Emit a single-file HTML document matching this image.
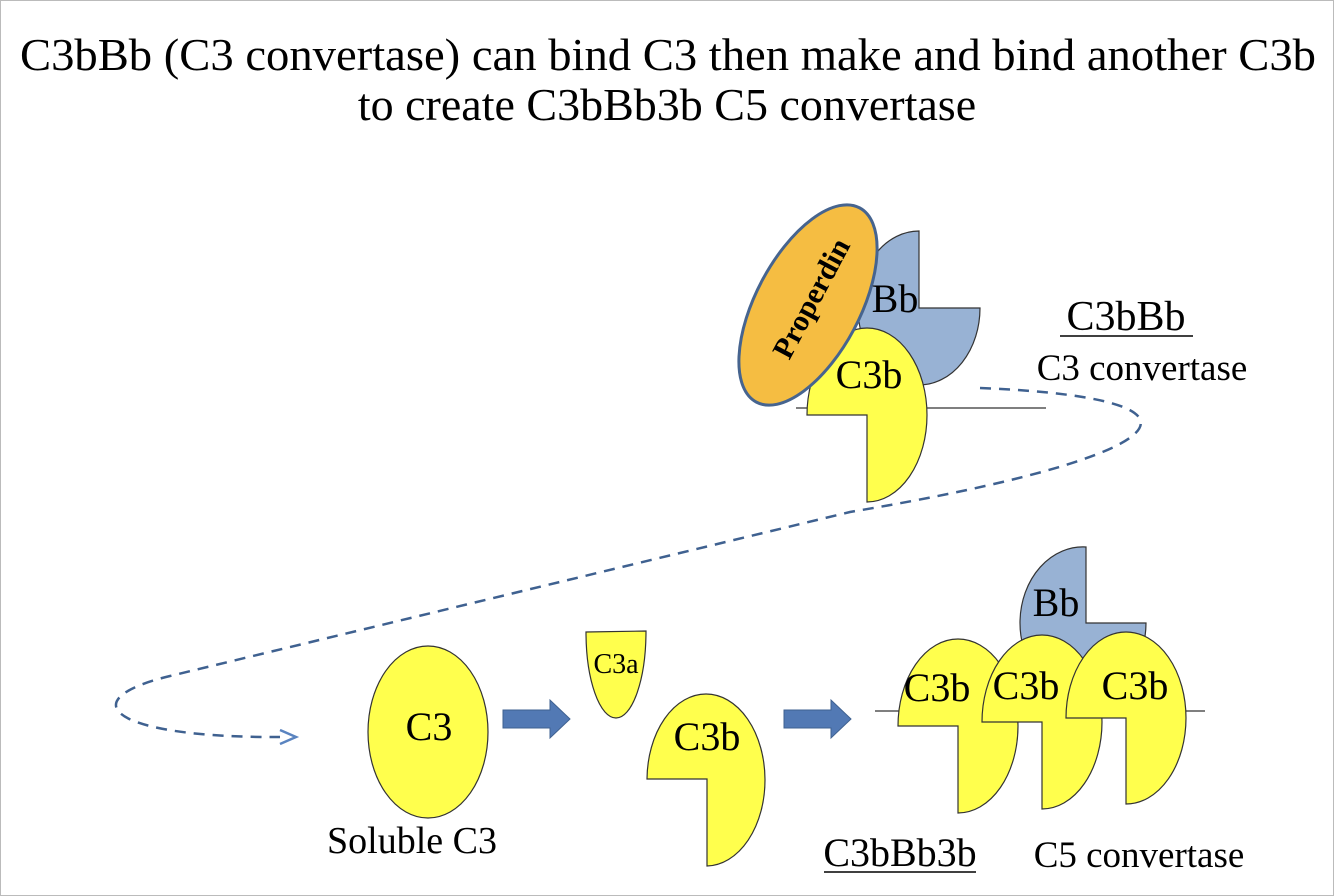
<!DOCTYPE html>
<html><head><style>
html,body{margin:0;padding:0;background:#fff}
svg{display:block}
text{font-family:"Liberation Serif",serif;fill:#000}
</style></head><body>
<svg width="1334" height="896" viewBox="0 0 1334 896">
<rect x="0.5" y="0.5" width="1333" height="895" fill="#fff" stroke="#bbb"/>
<text x="668" y="70" font-size="46" text-anchor="middle" textLength="1296" lengthAdjust="spacingAndGlyphs">C3bBb (C3 convertase) can bind C3 then make and bind another C3b</text>
<text x="667" y="120" font-size="46" text-anchor="middle">to create C3bBb3b C5 convertase</text>

<!-- dashed path -->
<path d="M980,388 C1230,398 1190,455 850,512 L170,676 C70,700 110,738 280,737" fill="none" stroke="#3f6190" stroke-width="2.5" stroke-dasharray="11,8"/>
<path d="M280,730 L296,737 L280,744" fill="none" stroke="#5a84c0" stroke-width="2.5"/>

<!-- top complex -->
<line x1="796" y1="408" x2="1046" y2="408" stroke="#333" stroke-width="1.2"/>
<path d="M919,308 L919,231 A61,77 0 1 0 980,308 Z" fill="#98b2d4" stroke="#333" stroke-width="1.2"/>
<path d="M867,415 L807,415 A60,87 0 1 1 867,502 Z" fill="#ffff4d" stroke="#333" stroke-width="1.2"/>
<ellipse cx="808" cy="305" rx="52" ry="110" transform="rotate(28 808 305)" fill="#f5bd42" stroke="#46648f" stroke-width="3"/>
<text x="0" y="0" font-size="30" font-weight="bold" text-anchor="middle" transform="translate(820,303) rotate(-62)">Properdin</text>
<text x="895" y="312" font-size="40" text-anchor="middle">Bb</text>
<text x="869" y="388" font-size="40" text-anchor="middle">C3b</text>
<text x="1126" y="330" font-size="42" text-anchor="middle">C3bBb</text>
<line x1="1060" y1="336" x2="1193" y2="336" stroke="#000" stroke-width="1.5"/>
<text x="1142" y="380" font-size="37" text-anchor="middle">C3 convertase</text>

<!-- soluble C3 -->
<ellipse cx="428" cy="732" rx="60" ry="86" fill="#ffff4d" stroke="#333" stroke-width="1.2"/>
<text x="429" y="740" font-size="40" text-anchor="middle">C3</text>
<text x="412" y="853" font-size="38" text-anchor="middle">Soluble C3</text>

<!-- arrows -->
<path d="M503,710 L550,710 L550,700 L570,719 L550,738 L550,728 L503,728 Z" fill="#5279b4" stroke="#3f6190" stroke-width="1"/>
<path d="M784,710 L831,710 L831,700 L851,719 L831,738 L831,728 L784,728 Z" fill="#5279b4" stroke="#3f6190" stroke-width="1"/>

<!-- C3a -->
<path d="M586,632 L646,631 A30,87 0 0 1 616,718 A30,86 0 0 1 586,632 Z" fill="#ffff4d" stroke="#333" stroke-width="1.2"/>
<text x="616" y="673" font-size="28" text-anchor="middle">C3a</text>

<!-- C3b middle -->
<path d="M707,779 L647,779 A59,86 0 1 1 707,866 Z" fill="#ffff4d" stroke="#333" stroke-width="1.2"/>
<text x="707" y="750" font-size="40" text-anchor="middle">C3b</text>

<!-- bottom complex -->
<line x1="875" y1="711" x2="1205" y2="711" stroke="#333" stroke-width="1.2"/>
<path d="M1086,623 L1086,547 A63,76 0 1 0 1146,623 Z" fill="#98b2d4" stroke="#333" stroke-width="1.2"/>
<text x="1056" y="616" font-size="40" text-anchor="middle">Bb</text>
<path d="M958,726 L898,726 A60,87 0 1 1 958,813 Z" fill="#ffff4d" stroke="#333" stroke-width="1.2"/>
<text x="937" y="701" font-size="40" text-anchor="middle">C3b</text>
<path d="M1042,722 L982,722 A60,87 0 1 1 1042,809 Z" fill="#ffff4d" stroke="#333" stroke-width="1.2"/>
<text x="1026" y="699" font-size="40" text-anchor="middle">C3b</text>
<path d="M1126,718 L1066,718 A60,86 0 1 1 1126,804 Z" fill="#ffff4d" stroke="#333" stroke-width="1.2"/>
<text x="1135" y="699" font-size="40" text-anchor="middle">C3b</text>

<text x="900" y="866" font-size="40" text-anchor="middle">C3bBb3b</text>
<line x1="824" y1="872" x2="976" y2="872" stroke="#000" stroke-width="1.5"/>
<text x="1139" y="867" font-size="37" text-anchor="middle">C5 convertase</text>
</svg>
</body></html>
